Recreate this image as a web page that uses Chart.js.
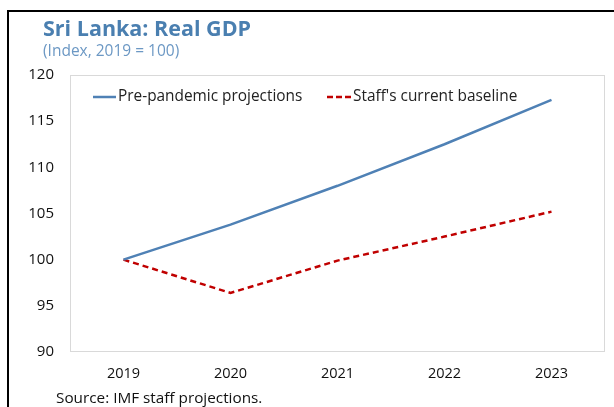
<!DOCTYPE html>
<html>
<head>
<meta charset="utf-8">
<script src="https://cdn.jsdelivr.net/npm/chart.js@4/dist/chart.umd.min.js"></script>
<style>
    html, body { margin: 0; padding: 0; background: #fff; }
    .frame {
        position: absolute;
        left: 7px;
        top: 10px;
        width: 640px;
        height: 420px;
        border-left: 2px solid #000;
        border-top: 2px solid #000;
    }
    canvas { position: absolute; left: 0; top: 0; }
</style>
</head>
<body>
<div class="frame"></div>
<canvas id="gdp-chart" width="614" height="407"></canvas>
<script>
    const years = ["2019", "2020", "2021", "2022", "2023"];
    const prePandemic = [100, 103.8, 108.0, 112.5, 117.3];
    const staffBaseline = [100, 96.4, 99.9, 102.5, 105.2];
    const yTicks = [90, 95, 100, 105, 110, 115, 120];

    const blue = "#4f81b5";
    const red = "#c00000";
    const font = "'Open Sans', 'Liberation Sans', sans-serif";

    // Titles, source note, legend and plot border
    const decorations = {
        id: "decorations",
        afterDraw(chart) {
            const ctx = chart.ctx;
            const area = chart.chartArea;
            ctx.save();

            ctx.strokeStyle = "#d9d9d9";
            ctx.lineWidth = 1;
            ctx.strokeRect(area.left + 0.5, area.top + 0.5, area.right - area.left - 1, area.bottom - area.top - 1);

            ctx.textBaseline = "middle";
            ctx.textAlign = "left";
            ctx.fillStyle = "#4a7fb0";
            ctx.font = "bold 21.5px " + font;
            ctx.fillText("Sri Lanka: Real GDP", 43, 30);
            ctx.fillStyle = "#6c98c4";
            ctx.font = "15.5px " + font;
            ctx.fillText("(Index, 2019 = 100)", 43, 52);

            ctx.fillStyle = "#111";
            ctx.font = "15.3px " + font;
            ctx.fillText("Source: IMF staff projections.", 56, 399);

            // legend
            const ly = 97;
            ctx.lineWidth = 2.5;
            ctx.strokeStyle = blue;
            ctx.beginPath();
            ctx.moveTo(93, ly);
            ctx.lineTo(116, ly);
            ctx.stroke();
            ctx.strokeStyle = red;
            ctx.setLineDash([6, 3]);
            ctx.beginPath();
            ctx.moveTo(327, ly);
            ctx.lineTo(351, ly);
            ctx.stroke();
            ctx.setLineDash([]);
            ctx.fillStyle = "#222";
            ctx.font = "15.4px " + font;
            ctx.fillText("Pre-pandemic projections", 118, ly);
            ctx.fillText("Staff's current baseline", 353, ly);

            ctx.restore();
        }
    };

    const ctx = document.getElementById("gdp-chart").getContext("2d");
    new Chart(ctx, {
        type: "line",
        data: {
            labels: years,
            datasets: [{
                label: "Pre-pandemic projections",
                data: prePandemic,
                borderColor: blue,
                borderWidth: 2.5,
                pointRadius: 0,
                tension: 0
            }, {
                label: "Staff's current baseline",
                data: staffBaseline,
                borderColor: red,
                borderWidth: 2.5,
                borderDash: [6, 4],
                pointRadius: 0,
                tension: 0
            }]
        },
        options: {
            responsive: false,
            animation: false,
            layout: {
                padding: { top: 75, right: 9, left: 0, bottom: 0 }
            },
            plugins: {
                legend: { display: false },
                tooltip: { enabled: false }
            },
            scales: {
                x: {
                    offset: true,
                    grid: { display: false, drawTicks: false },
                    border: { display: false },
                    ticks: {
                        color: "#111",
                        font: { family: font, size: 14.5 },
                        padding: 13,
                        maxRotation: 0
                    },
                    afterFit(scale) { scale.height = 55; }
                },
                y: {
                    min: 90,
                    max: 120,
                    afterBuildTicks(scale) {
                        scale.ticks = yTicks.map(v => ({ value: v }));
                    },
                    grid: { display: false, drawTicks: false },
                    border: { display: false },
                    ticks: {
                        color: "#111",
                        font: { family: font, size: 15 },
                        padding: 16
                    },
                    afterFit(scale) { scale.width = 70; }
                }
            }
        },
        plugins: [decorations]
    });
</script>
</body>
</html>
